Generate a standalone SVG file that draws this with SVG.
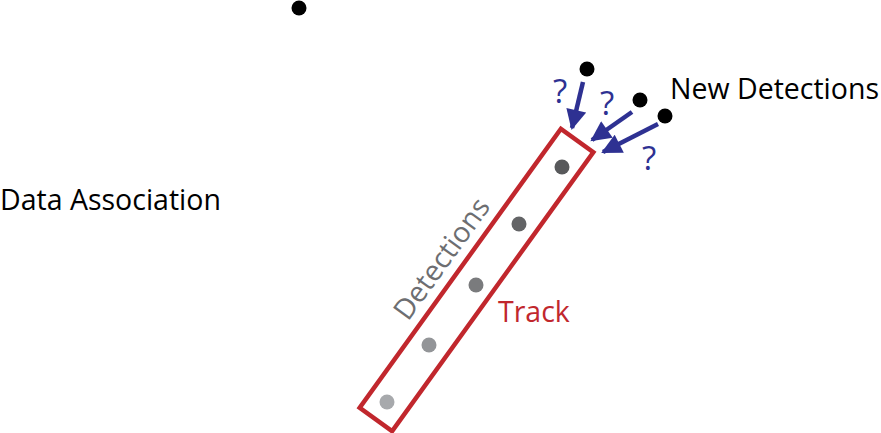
<svg xmlns="http://www.w3.org/2000/svg" width="881" height="433" viewBox="0 0 881 433">
<defs>
<style>
.lbl{font-family:"Open Sans","Liberation Sans",sans-serif;font-size:28.5px}
.q{font-family:"Open Sans","Liberation Sans",sans-serif;font-size:33px;fill:#2E3192}
.arr{stroke:#2E3192;stroke-width:4.5;fill:none}
.nd{fill:#000}
</style>
<marker id="ah" viewBox="0 0 10 10" refX="9" refY="5" markerWidth="5" markerHeight="4.5" markerUnits="strokeWidth" orient="auto">
<path d="M0,0 L10,5 L0,10 z" fill="#2E3192"/>
</marker>
</defs>
<rect width="881" height="433" fill="#fff"/>
<g id="title"><text class="lbl" x="0" y="210" fill="#000">Data Association</text></g>
<g id="track">
<rect x="304.5" y="260" width="344" height="40" transform="rotate(-54.2 476.5 280)" fill="none" stroke="#C1272D" stroke-width="4.5"/>
<text class="lbl" x="498" y="322" fill="#C1272D" font-size="27">Track</text>
<text class="lbl" x="0" y="0" fill="#6D6E71" transform="translate(408 322) rotate(-54.2)">Detections</text>
</g>
<g id="detections">
<circle cx="562" cy="167" r="7.5" fill="#58595B"/>
<circle cx="519" cy="224" r="7.5" fill="#636466"/>
<circle cx="476" cy="285" r="7.5" fill="#7A7B7D"/>
<circle cx="429" cy="345" r="7.5" fill="#939598"/>
<circle cx="387" cy="402" r="7.5" fill="#A7A9AC"/>
</g>
<g id="new-detections">
<circle class="nd" cx="299" cy="8" r="7.5"/>
<circle class="nd" cx="587" cy="69" r="7.5"/>
<circle class="nd" cx="640" cy="100" r="7.5"/>
<circle class="nd" cx="665" cy="116" r="7.5"/>
<text class="lbl" x="670" y="99" fill="#000">New Detections</text>
</g>
<g id="connectors">
<line class="arr" x1="583" y1="82" x2="572" y2="128" marker-end="url(#ah)"/>
<line class="arr" x1="632" y1="112" x2="592" y2="140" marker-end="url(#ah)"/>
<line class="arr" x1="658" y1="124" x2="603" y2="152" marker-end="url(#ah)"/>
<text class="q" x="560" y="103" text-anchor="middle">?</text>
<text class="q" x="607" y="115" text-anchor="middle">?</text>
<text class="q" x="649" y="170" text-anchor="middle">?</text>
</g>
</svg>
